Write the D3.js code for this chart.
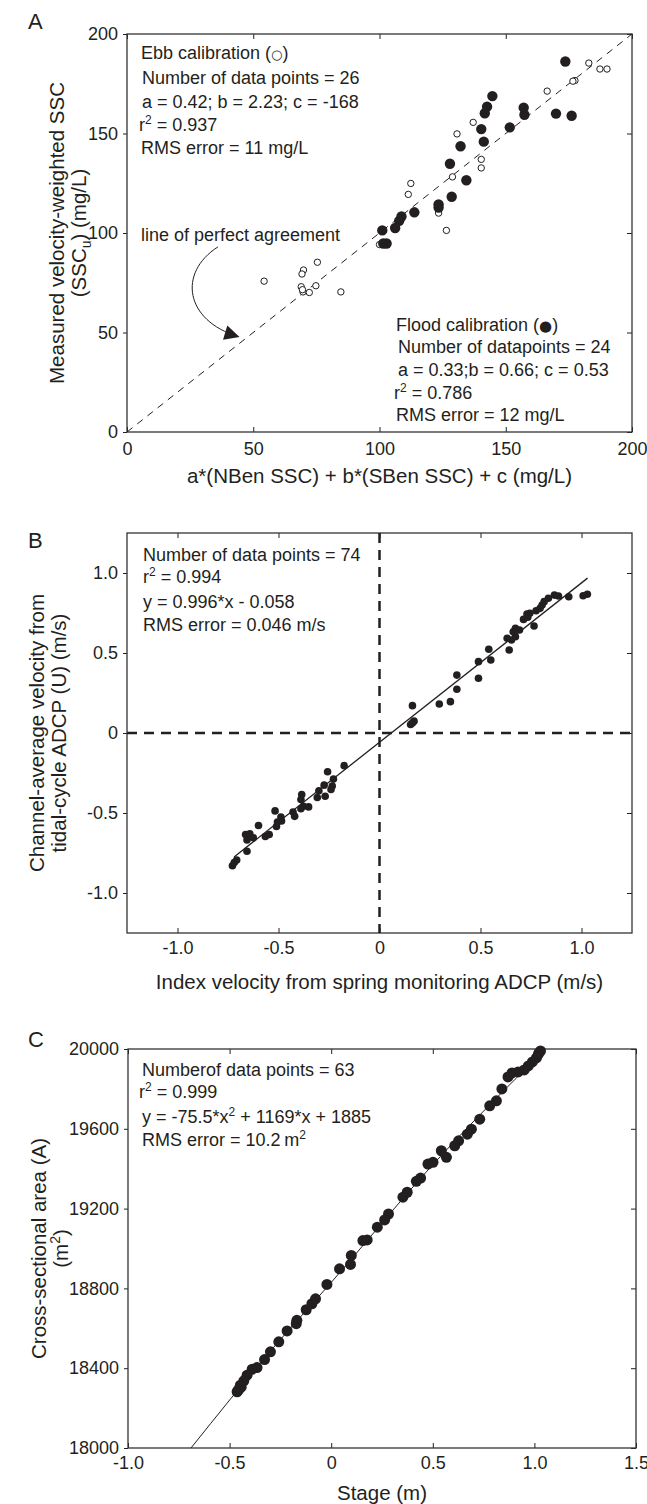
<!DOCTYPE html>
<html>
<head>
<meta charset="utf-8">
<script src="https://cdn.jsdelivr.net/npm/d3@7"></script>
<style>
  body { margin: 0; background: #fff; }
  svg text { font-family: "Liberation Sans", Arial, sans-serif; fill: #231f20; }
</style>
</head>
<body>
<script>
// ---- panel A: SSC calibration ----
const ebbX = [182.9, 187.3, 190.1, 177.4, 176.6, 166.4, 137.1, 130.7, 140.3, 140.3, 128.9, 112.4, 111.4,
  123.4, 126.5, 100.0, 54.3, 69.9, 69.3, 75.4, 69.0, 69.7, 72.2, 74.8, 84.7, 69.5];
const ebbY = [185.4, 182.4, 182.4, 176.6, 176.3, 171.3, 155.6, 149.8, 137.0, 132.7, 128.2, 124.9, 119.4,
  110.0, 101.3, 94.2, 75.8, 81.4, 79.4, 85.3, 73.0, 70.4, 70.1, 73.5, 70.4, 71.5];
const floodX = [173.6, 144.7, 142.6, 141.7, 157.1, 157.4, 169.9, 176.1, 151.6, 140.3, 141.3, 132.1,
  127.9, 134.4, 128.6, 123.4, 123.4, 113.8, 108.7, 107.8, 106.2, 101.1, 101.5, 102.8];
const floodY = [186.2, 168.8, 163.5, 160.2, 163.0, 159.4, 160.0, 158.9, 153.1, 152.2, 145.9, 143.6,
  134.8, 126.5, 118.2, 114.4, 112.8, 110.4, 108.3, 106.1, 102.5, 101.3, 94.7, 94.7];
const sscTicks = [0, 50, 100, 150, 200];
const agreeLine = [0, 200];

// ---- panel B: index velocity ----
const velIndex = [-0.175, -0.257, -0.228, -0.274, -0.234, -0.300, -0.308, -0.269, -0.240, -0.385, -0.389,
  -0.377, -0.351, -0.389, -0.428, -0.420, -0.517, -0.505, -0.485, -0.488, -0.510, -0.599, -0.565, -0.546,
  -0.663, -0.642, -0.656, -0.625, -0.656, -0.707, -0.719, -0.728, 0.154, 0.171, 0.163,
  1.029, 1.008, 0.937, 0.886, 0.866, 0.836, 0.815, 0.805, 0.795, 0.775, 0.744, 0.730, 0.765, 0.734, 0.713,
  0.693, 0.673, 0.662, 0.632, 0.673, 0.642, 0.653, 0.551, 0.541, 0.490, 0.490, 0.383, 0.383, 0.351, 0.296, 0.163];
const velChannel = [-0.204, -0.242, -0.288, -0.326, -0.332, -0.361, -0.403, -0.395, -0.353, -0.384, -0.416,
  -0.458, -0.462, -0.473, -0.494, -0.521, -0.487, -0.557, -0.550, -0.525, -0.584, -0.578, -0.647, -0.634,
  -0.634, -0.630, -0.668, -0.655, -0.739, -0.794, -0.809, -0.830, 0.053, 0.074, 0.063,
  0.867, 0.858, 0.852, 0.856, 0.862, 0.842, 0.821, 0.800, 0.779, 0.764, 0.748, 0.744, 0.669, 0.723, 0.710,
  0.644, 0.654, 0.633, 0.592, 0.602, 0.519, 0.581, 0.456, 0.523, 0.446, 0.342, 0.362, 0.273, 0.196, 0.181, 0.171];
const velTicks = [-1, -0.5, 0, 0.5, 1];
const velLabels = ["-1.0", "-0.5", "0", "0.5", "1.0"];
const velFitX = [-0.72, 1.03];
const velFitY = [-0.775, 0.968];

// ---- panel C: stage / area ----
const stage = [0.099, 0.095, 0.041, -0.021, -0.077, -0.095, -0.123, -0.169, -0.172, -0.217, -0.258, -0.299,
  -0.328, -0.365, -0.389, -0.414, -0.430, -0.447, -0.463, -0.456, -0.443,
  0.813, 0.780, 0.731, 0.690, 0.670, 0.627, 0.608, 0.567, 0.542, 0.501, 0.476, 0.440, 0.419, 0.374, 0.353,
  0.282, 0.263, 0.227, 0.177, 0.156,
  1.03, 1.02, 1.01, 0.99, 0.97, 0.95, 0.92, 0.89, 0.87, 0.84];
const area = [18965, 18920, 18898, 18820, 18748, 18723, 18693, 18640, 18623, 18587, 18532, 18482,
  18443, 18403, 18395, 18365, 18337, 18315, 18282, 18292, 18305,
  19740, 19715, 19648, 19598, 19573, 19540, 19515, 19457, 19490, 19432, 19423, 19353, 19337, 19282, 19257,
  19173, 19143, 19107, 19043, 19040,
  19990, 19975, 19955, 19935, 19915, 19895, 19885, 19880, 19860, 19800];
const stageTicks = [-1, -0.5, 0, 0.5, 1, 1.5];
const stageLabels = ["-1.0", "-0.5", "0", "0.5", "1.0", "1.5"];
const areaTicks = [18000, 18400, 18800, 19200, 19600, 20000];
const areaFitX = [-0.69, -0.3, 0, 0.5, 1.04];
const areaFitY = [18000, 18485, 18830, 19420, 19985];

const ink = "#231f20";
const svg = d3.select("body").append("svg").attr("width", 647).attr("height", 1504);

svg.append("defs").append("marker")
  .attr("id", "head").attr("viewBox", "0 0 10 10").attr("refX", 9).attr("refY", 5)
  .attr("markerWidth", 20).attr("markerHeight", 15).attr("markerUnits", "userSpaceOnUse")
  .attr("orient", "auto")
  .append("path").attr("d", "M0,0 L10,5 L0,10 Z").attr("fill", ink);

// rich text: parts are strings or {sup:"2"} / {sub:"u"} / {sym, size}
function rich(g, x, y, parts, anchor, size) {
  size = size || 18;
  const small = Math.round(size * 0.67), up = Math.round(size * 0.39);
  const t = g.append("text").attr("x", x).attr("y", y).attr("font-size", size)
    .attr("text-anchor", anchor || "start");
  let shift = 0;
  parts.forEach(p => {
    let s, target = 0;
    if (typeof p === "string") s = t.append("tspan").text(p);
    else if (p.sup) { s = t.append("tspan").attr("font-size", small).text(p.sup); target = -up; }
    else if (p.sub) { s = t.append("tspan").attr("font-size", small).text(p.sub); target = up * 0.6; }
    else s = t.append("tspan").style("font-family", "DejaVu Sans").attr("font-size", p.size).text(p.sym);
    if (target !== shift) s.attr("dy", target - shift);
    shift = target;
  });
  return t;
}

function panel(c) {
  const x = d3.scaleLinear().domain(c.xDomain).range([c.left, c.right]);
  const y = d3.scaleLinear().domain(c.yDomain).range([c.bottom, c.top]);
  const g = svg.append("g");
  const style = a => a.attr("font-size", null).attr("font-family", null).style("color", ink)
    .call(s => s.select(".domain").remove())
    .call(s => s.selectAll("text").attr("font-size", 18));
  const fx = d => c.xLabels ? c.xLabels[c.xTicks.indexOf(d)] : d;
  g.append("g").attr("transform", `translate(0,${c.bottom})`)
    .call(d3.axisBottom(x).tickValues(c.xTicks).tickFormat(fx).tickSizeInner(-5).tickSizeOuter(0).tickPadding(c.xPad))
    .call(style);
  g.append("g").attr("transform", `translate(0,${c.top})`)
    .call(d3.axisTop(x).tickValues(c.xTicks).tickFormat("").tickSizeInner(-5).tickSizeOuter(0))
    .call(style);
  const fy = d => c.yLabels ? c.yLabels[c.yTicks.indexOf(d)] : d;
  g.append("g").attr("transform", `translate(${c.left},0)`)
    .call(d3.axisLeft(y).tickValues(c.yTicks).tickFormat(fy).tickSizeInner(4).tickSizeOuter(0).tickPadding(5))
    .call(style);
  g.append("g").attr("transform", `translate(${c.right},0)`)
    .call(d3.axisRight(y).tickValues(c.yTicks).tickFormat("").tickSizeInner(-5).tickSizeOuter(0))
    .call(style);
  g.append("rect").attr("x", c.left).attr("y", c.top)
    .attr("width", c.right - c.left).attr("height", c.bottom - c.top)
    .attr("fill", "none").attr("stroke", "#333").attr("stroke-width", 1.3);
  g.append("text").attr("x", c.letterX).attr("y", c.letterY).attr("font-size", 22).text(c.letter);
  rich(g, (c.left + c.right) / 2, c.xTitleY, c.xTitle, "middle", 20.5);
  const cy = (c.top + c.bottom) / 2;
  c.yTitle.forEach((parts, i) => {
    rich(g, 0, 0, parts, "middle", 20.5).attr("transform", `translate(${c.yTitleX[i]},${cy}) rotate(-90)`);
  });
  return { g, x, y };
}

// ---- A ----
const A = panel({
  left: 127, right: 632, top: 34, bottom: 432,
  xDomain: [0, 200], yDomain: [0, 200], xTicks: sscTicks, yTicks: sscTicks, xPad: 10,
  letter: "A", letterX: 28, letterY: 29,
  xTitle: ["a*(NBen SSC) + b*(SBen SSC) + c (mg/L)"], xTitleY: 483,
  yTitle: [["Measured velocity-weighted SSC"], ["(SSC", { sub: "u" }, ") (mg/L)"]], yTitleX: [64, 86]
});
A.g.append("line")
  .attr("x1", A.x(agreeLine[0])).attr("y1", A.y(agreeLine[0]))
  .attr("x2", A.x(agreeLine[1])).attr("y2", A.y(agreeLine[1]))
  .attr("stroke", ink).attr("stroke-width", 1).attr("stroke-dasharray", "7,6");
A.g.selectAll(".ebb").data(d3.zip(ebbX, ebbY)).join("circle").attr("class", "ebb")
  .attr("cx", d => A.x(d[0])).attr("cy", d => A.y(d[1])).attr("r", 3.2)
  .attr("fill", "#fff").attr("stroke", ink).attr("stroke-width", 1);
A.g.selectAll(".flood").data(d3.zip(floodX, floodY)).join("circle").attr("class", "flood")
  .attr("cx", d => A.x(d[0])).attr("cy", d => A.y(d[1])).attr("r", 5.2).attr("fill", ink);
// curved arrow to the 1:1 line (anchor points in data units)
const arrowPts = [[36, 93], [20, 80], [23, 56], [44, 48]];
A.g.append("path")
  .attr("d", `M${A.x(arrowPts[0][0])},${A.y(arrowPts[0][1])} C${arrowPts.slice(1).map(p => A.x(p[0]) + "," + A.y(p[1])).join(" ")}`)
  .attr("fill", "none").attr("stroke", ink).attr("stroke-width", 1).attr("marker-end", "url(#head)");
[
  [141, 59, ["Ebb calibration (", { sym: "\u25CB", size: 13 }, ")"]],
  [142, 84, ["Number of data points = 26"]],
  [142, 108, ["a = 0.42; b = 2.23; c = -168"]],
  [139, 131, ["r", { sup: "2" }, " = 0.937"]],
  [141, 154, ["RMS error = 11 mg/L"]],
  [141, 241, ["line of perfect agreement"]],
  [396, 331, ["Flood calibration (", { sym: "\u25CF", size: 15 }, ")"]],
  [398, 353, ["Number of datapoints = 24"]],
  [398, 376, ["a = 0.33;b = 0.66; c = 0.53"]],
  [394, 399, ["r", { sup: "2" }, " = 0.786"]],
  [396, 421, ["RMS error = 12 mg/L"]]
].forEach(d => rich(A.g, d[0], d[1], d[2]));

// ---- B ----
const B = panel({
  left: 127, right: 632, top: 533, bottom: 933,
  xDomain: [-1.25, 1.25], yDomain: [-1.25, 1.25], xTicks: velTicks, yTicks: velTicks,
  xLabels: velLabels, yLabels: velLabels, xPad: 8,
  letter: "B", letterX: 28, letterY: 548,
  xTitle: ["Index velocity from spring monitoring ADCP (m/s)"], xTitleY: 989,
  yTitle: [["Channel-average velocity from"], ["tidal-cycle ADCP (U) (m/s)"]], yTitleX: [44, 66]
});
B.g.append("line").attr("x1", B.x(-1.25)).attr("x2", B.x(1.25)).attr("y1", B.y(0)).attr("y2", B.y(0))
  .attr("stroke", ink).attr("stroke-width", 2.5).attr("stroke-dasharray", "10,7");
B.g.append("line").attr("x1", B.x(0)).attr("x2", B.x(0)).attr("y1", B.y(1.25)).attr("y2", B.y(-1.25))
  .attr("stroke", ink).attr("stroke-width", 2.5).attr("stroke-dasharray", "10,7");
B.g.append("line").attr("x1", B.x(velFitX[0])).attr("y1", B.y(velFitY[0]))
  .attr("x2", B.x(velFitX[1])).attr("y2", B.y(velFitY[1])).attr("stroke", ink).attr("stroke-width", 1.3);
B.g.selectAll(".pt").data(d3.zip(velIndex, velChannel)).join("circle").attr("class", "pt")
  .attr("cx", d => B.x(d[0])).attr("cy", d => B.y(d[1])).attr("r", 3.8).attr("fill", ink);
[
  [143, 561, ["Number of data points = 74"]],
  [143, 583, ["r", { sup: "2" }, " = 0.994"]],
  [143, 608, ["y = 0.996*x - 0.058"]],
  [143, 631, ["RMS error = 0.046 m/s"]]
].forEach(d => rich(B.g, d[0], d[1], d[2]));

// ---- C ----
const C = panel({
  left: 128, right: 636, top: 1049, bottom: 1448,
  xDomain: [-1, 1.5], yDomain: [18000, 20000], xTicks: stageTicks, yTicks: areaTicks,
  xLabels: stageLabels, xPad: 8,
  letter: "C", letterX: 28, letterY: 1047,
  xTitle: ["Stage (m)"], xTitleY: 1500,
  yTitle: [["Cross-sectional area (A)"], ["(m", { sup: "2" }, ")"]], yTitleX: [46, 68]
});
C.g.append("path").datum(d3.zip(areaFitX, areaFitY))
  .attr("d", d3.line().x(d => C.x(d[0])).y(d => C.y(d[1])).curve(d3.curveMonotoneX))
  .attr("fill", "none").attr("stroke", ink).attr("stroke-width", 1);
C.g.selectAll(".pt").data(d3.zip(stage, area)).join("circle").attr("class", "pt")
  .attr("cx", d => C.x(d[0])).attr("cy", d => C.y(d[1])).attr("r", 5.5).attr("fill", ink);
[
  [142, 1076, ["Numberof data points = 63"]],
  [139, 1098, ["r", { sup: "2" }, " = 0.999"]],
  [142, 1123, ["y = -75.5*x", { sup: "2" }, " + 1169*x + 1885"]],
  [142, 1146, ["RMS error = 10.2\u2009m", { sup: "2" }]]
].forEach(d => rich(C.g, d[0], d[1], d[2]));
</script>
</body>
</html>
